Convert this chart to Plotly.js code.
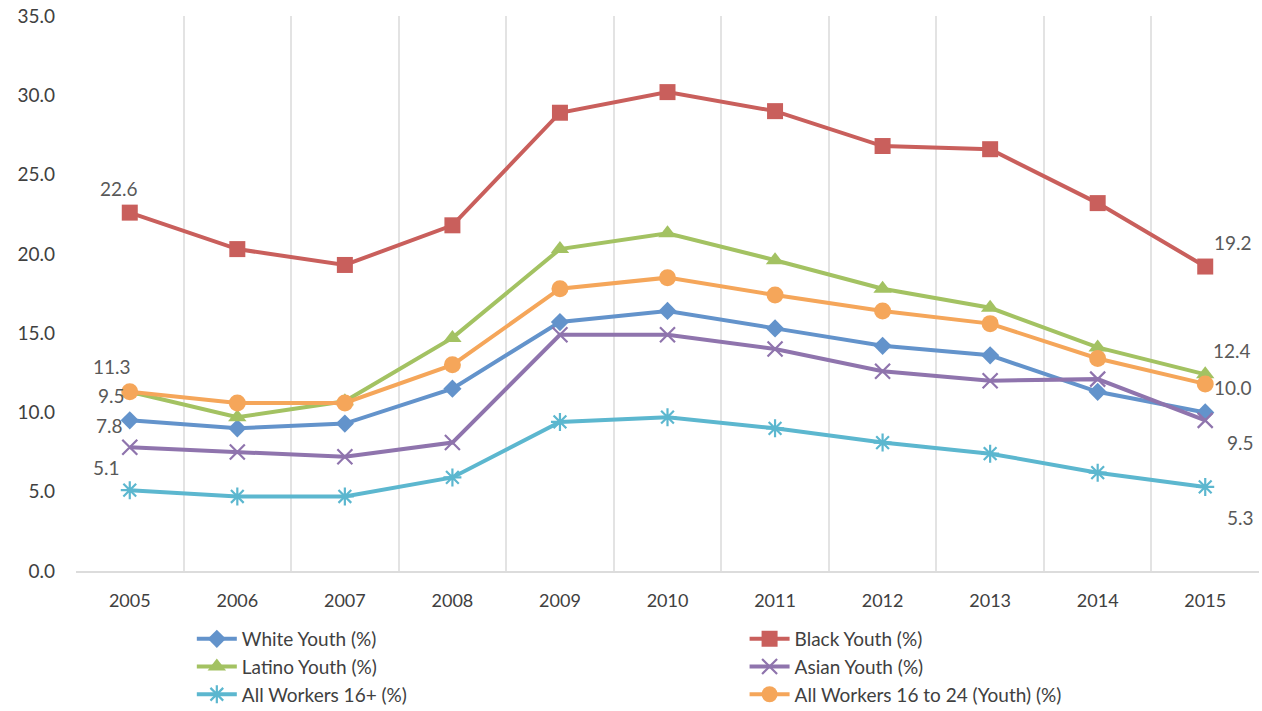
<!DOCTYPE html>
<html>
<head>
<meta charset="utf-8">
<script src="https://cdn.plot.ly/plotly-3.0.1.min.js"></script>
<style>
  html, body { margin: 0; padding: 0; background: #ffffff; }
  #chart { width: 1262px; height: 711px; }
</style>
</head>
<body>
<div id="chart"></div>
<script>
// Unemployment rates by group, 2005-2015 (%)
const years = ['2005', '2006', '2007', '2008', '2009', '2010', '2011', '2012', '2013', '2014', '2015'];

const whiteYouth  = [9.5, 9.0, 9.3, 11.5, 15.7, 16.4, 15.3, 14.2, 13.6, 11.3, 10.0];
const blackYouth  = [22.6, 20.3, 19.3, 21.8, 28.9, 30.2, 29.0, 26.8, 26.6, 23.2, 19.2];
const latinoYouth = [11.3, 9.7, 10.7, 14.7, 20.3, 21.3, 19.6, 17.8, 16.6, 14.1, 12.4];
const asianYouth  = [7.8, 7.5, 7.2, 8.1, 14.9, 14.9, 14.0, 12.6, 12.0, 12.1, 9.5];
const allWorkers  = [5.1, 4.7, 4.7, 5.9, 9.4, 9.7, 9.0, 8.1, 7.4, 6.2, 5.3];
const allYouth    = [11.3, 10.6, 10.6, 13.0, 17.8, 18.5, 17.4, 16.4, 15.6, 13.4, 11.8];

const seriesNames = ['White Youth (%)', 'Black Youth (%)', 'Latino Youth (%)', 'Asian Youth (%)',
                     'All Workers 16+ (%)', 'All Workers 16 to 24 (Youth) (%)'];

const colors = {
  white: '#6393CB',
  black: '#C95F5C',
  latino: '#A3C262',
  asian: '#8F74AD',
  all: '#5CB7CF',
  youth: '#F5A65A'
};

const FONT = 'Lato, "Open Sans", sans-serif';

function lineTrace(name, values, color, symbol, size, legendId, openSymbol) {
  const marker = { symbol: symbol, size: size, color: color };
  if (openSymbol) marker.line = { color: color, width: 2.2 };
  return {
    type: 'scatter',
    mode: 'lines+markers',
    name: name,
    legend: legendId,
    legendgroup: name,
    x: years,
    y: values,
    line: { color: color, width: 4 },
    marker: marker,
    cliponaxis: false
  };
}

// Left legend column: White, Latino, All 16+; right column: Black, Asian, Youth
const traces = [
  lineTrace(seriesNames[0], whiteYouth, colors.white, 'diamond', 14, 'legend'),
  lineTrace(seriesNames[1], blackYouth, colors.black, 'square', 16, 'legend2'),
  lineTrace(seriesNames[2], latinoYouth, colors.latino, 'triangle-up', 16, 'legend'),
  lineTrace(seriesNames[3], asianYouth, colors.asian, 'x-thin-open', 15, 'legend2', true),
  lineTrace(seriesNames[4], allWorkers, colors.all, 'asterisk-open', 15, 'legend', true),
  lineTrace(seriesNames[5], allYouth, colors.youth, 'circle', 17, 'legend2')
];

// Value labels at the first and last year
const labelFont = { family: FONT, size: 19, color: '#595959' };
function valueLabel(index, value, dx, dy) {
  return {
    x: index, y: value, xref: 'x', yref: 'y',
    text: value.toFixed(1), showarrow: false,
    xshift: dx, yshift: dy, font: labelFont
  };
}
const first = 0, last = years.length - 1;
const annotations = [
  valueLabel(first, blackYouth[first], -11, 24),
  valueLabel(first, allYouth[first], -18, 25),
  valueLabel(first, whiteYouth[first], -18, 25),
  valueLabel(first, asianYouth[first], -20, 22),
  valueLabel(first, allWorkers[first], -23, 23),
  valueLabel(last, blackYouth[last], 28, 24),
  valueLabel(last, latinoYouth[last], 27, 24),
  valueLabel(last, whiteYouth[last], 28, 25),
  valueLabel(last, asianYouth[last], 35, -22),
  valueLabel(last, allWorkers[last], 35, -31)
];

function legendBox(xPos) {
  return {
    orientation: 'v',
    xref: 'container', yref: 'container',
    x: xPos, xanchor: 'left',
    y: 0.128, yanchor: 'top',
    itemwidth: 40,
    tracegroupgap: 4,
    bgcolor: 'rgba(0,0,0,0)',
    font: { family: FONT, size: 19, color: '#404040' },
    traceorder: 'normal'
  };
}

const layout = {
  width: 1262,
  height: 711,
  margin: { l: 76, r: 3, t: 16, b: 140, autoexpand: false },
  paper_bgcolor: '#ffffff',
  plot_bgcolor: '#ffffff',
  font: { family: FONT, color: '#404040' },
  showlegend: true,
  legend: legendBox(0.152),
  legend2: legendBox(0.590),
  xaxis: {
    type: 'category',
    range: [-0.5, 10.5],
    tickson: 'boundaries',
    showgrid: true,
    gridcolor: '#e3e3e3',
    gridwidth: 2,
    showline: true,
    linecolor: '#dcdcdc',
    linewidth: 2,
    ticks: '',
    tickangle: 0,
    ticklabelstandoff: 12,
    tickfont: { family: FONT, size: 18, color: '#404040' },
    zeroline: false,
    fixedrange: true
  },
  yaxis: {
    range: [0, 35],
    dtick: 5,
    tick0: 0,
    tickformat: '.1f',
    showgrid: false,
    zeroline: false,
    showline: false,
    ticks: '',
    ticklabelstandoff: 20,
    tickfont: { family: FONT, size: 19, color: '#404040' },
    fixedrange: true
  },
  annotations: annotations
};

Plotly.newPlot('chart', traces, layout, { displayModeBar: false, staticPlot: true });
</script>
</body>
</html>
